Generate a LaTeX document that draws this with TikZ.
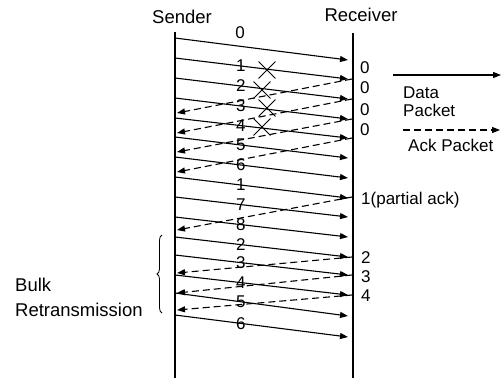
\documentclass[tikz,border=0pt]{standalone}
\usepackage{fontspec}
\setmainfont{Liberation Sans}
\usetikzlibrary{arrows.meta,decorations.pathreplacing,shapes.misc}
\begin{document}
\begin{tikzpicture}[x=1pt,y=-1pt,
  every node/.style={font=\fontsize{17}{19}\selectfont, inner sep=0pt},
  title/.style={font=\fontsize{18.5}{21}\selectfont},
  timeline/.style={line width=2.6pt},
  data/.style={line width=1.1pt, -{Triangle[length=8pt,width=6pt]}},
  ack/.style={line width=1.1pt, dash pattern=on 7pt off 4pt, -{Triangle[length=8pt,width=6pt]}},
  lost/.style={cross out, draw, line width=0.9pt, minimum size=16pt, inner sep=0pt},
  bracestyle/.style={decorate, decoration={brace, amplitude=5pt}, line width=0.8pt}
]
\useasboundingbox (0,0) rectangle (502,378);

% titles
\node[title] (sendt) at (182,17) {Sender};
\node[title] (recvt) at (361,15) {Receiver};

% time lines
\coordinate (sTop) at (175,32); \coordinate (sBot) at (175,378);
\coordinate (rTop) at (353,33); \coordinate (rBot) at (353,378);
\draw[timeline] (sTop) -- (sBot);
\draw[timeline] (rTop) -- (rBot);

% first data packet (label above)
\coordinate (ds0) at (175,38); \coordinate (dr0) at (348,60);
\draw[data] (ds0) -- (dr0);
\node (dl0) at (240,33) {0};

% data packets
\foreach \n/\a/\b/\l in {1/58/79/1, 2/78/99/2, 3/98/119/3, 4/118/138/4,
  5/137/158/5, 6/157/178/6, 7/177/198/1, 8/197/217/7, 9/217/237/8,
  10/237/257/2, 11/255/275/3, 12/275/295/4, 13/293/316/5, 14/315/337/6} {
  \coordinate (ds\n) at (175,\a);
  \coordinate (dr\n) at (348,\b);
  \draw[data] (ds\n) -- node[pos=0.38] (dl\n) {\l} (dr\n);
}

% acks
\foreach \n/\a/\b in {1/79/113, 2/99/133, 3/119/152, 4/138/172,
  5/197/230, 6/257/273, 7/275/293, 8/295/310} {
  \coordinate (ar\n) at (352,\a);
  \coordinate (as\n) at (177,\b);
  \draw[ack] (ar\n) -- (as\n);
}

% lost packets
\node[lost] (x1) at (267,70) {};
\node[lost] (x2) at (262,90) {};
\node[lost] (x3) at (267,108) {};
\node[lost] (x4) at (262,127) {};

% receiver labels
\node[anchor=west] (rl1) at (360,68) {0};
\node[anchor=west] (rl2) at (360,88) {0};
\node[anchor=west] (rl3) at (360,110) {0};
\node[anchor=west] (rl4) at (360,130) {0};
\node[anchor=west] (rl5) at (361,200) {1(partial ack)};
\node[anchor=west] (rl6) at (361,258) {2};
\node[anchor=west] (rl7) at (361,277) {3};
\node[anchor=west] (rl8) at (361,296) {4};

% legend
\coordinate (lgA) at (393,75); \coordinate (lgB) at (501,75);
\draw[data] (lgA) -- (lgB);
\node[anchor=west] (ldata) at (403,93) {Data};
\node[anchor=west] (lpack) at (403,110) {Packet};
\coordinate (lgC) at (403,130); \coordinate (lgD) at (500,130);
\draw[ack] (lgC) -- (lgD);
\node[anchor=west] (lack) at (408,145) {Ack Packet};

% bulk retransmission
\coordinate (brB) at (162,313); \coordinate (brT) at (162,235);
\draw[bracestyle] (brB) -- (brT);
\node[title, anchor=west] (bulk) at (15,285) {Bulk};
\node[title, anchor=west] (retx) at (15,310) {Retransmission};
\end{tikzpicture}
\end{document}
